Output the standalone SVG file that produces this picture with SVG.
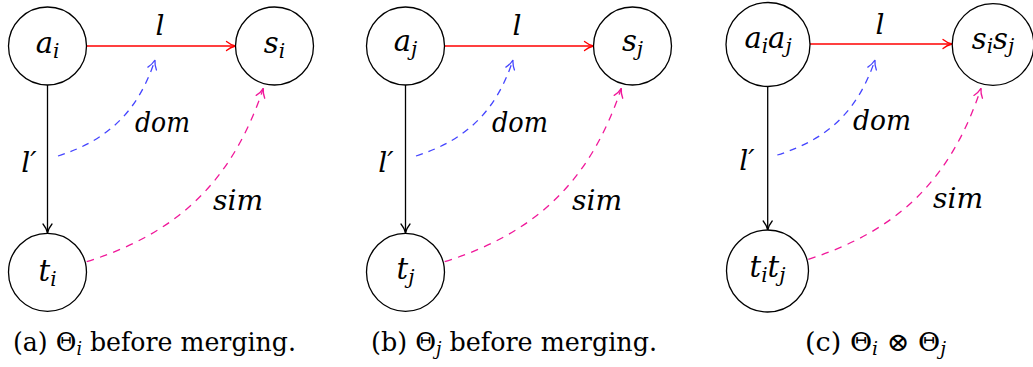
<svg xmlns="http://www.w3.org/2000/svg" width="1033" height="367" viewBox="0 0 1033 367">
<style>
.node{fill:#fff;stroke:#000;stroke-width:1.3}
.lab{font-family:"DejaVu Serif",serif;font-style:italic;font-size:29px;fill:#000}
.sub{font-size:20px}
.elab{font-family:"DejaVu Serif",serif;font-style:italic;font-size:28px;fill:#000}
.cap{font-family:"DejaVu Serif",serif;font-size:26px;fill:#000}
.e{fill:none;stroke-width:1.3}
.red{stroke:#ff0000}
.blk{stroke:#000}
.blue{stroke:#4545ff;stroke-dasharray:7 6}
.pink{stroke:#f0189a;stroke-dasharray:7.5 6.5}
</style>
<defs>
<marker id="mr" markerUnits="userSpaceOnUse" orient="auto" overflow="visible" markerWidth="1" markerHeight="1"><path d="M-9,-4.5 C-6,-2 -2,-0.5 0,0 C-2,0.5 -6,2 -9,4.5" fill="none" stroke="#ff0000" stroke-width="1.3" stroke-linecap="round"/></marker>
<marker id="mk" markerUnits="userSpaceOnUse" orient="auto" overflow="visible" markerWidth="1" markerHeight="1"><path d="M-9,-4.5 C-6,-2 -2,-0.5 0,0 C-2,0.5 -6,2 -9,4.5" fill="none" stroke="#000" stroke-width="1.3" stroke-linecap="round"/></marker>
<marker id="mb" markerUnits="userSpaceOnUse" orient="auto" overflow="visible" markerWidth="1" markerHeight="1"><path d="M-9,-4.5 C-6,-2 -2,-0.5 0,0 C-2,0.5 -6,2 -9,4.5" fill="none" stroke="#4545ff" stroke-width="1.3" stroke-linecap="round"/></marker>
<marker id="mp" markerUnits="userSpaceOnUse" orient="auto" overflow="visible" markerWidth="1" markerHeight="1"><path d="M-9,-4.5 C-6,-2 -2,-0.5 0,0 C-2,0.5 -6,2 -9,4.5" fill="none" stroke="#f0189a" stroke-width="1.3" stroke-linecap="round"/></marker>
</defs>

<g id="connectors">
<path class="e red" d="M86.5,46 L235.5,46" marker-end="url(#mr)"/>
<path class="e blk" d="M47.5,85 L47.5,233" marker-end="url(#mk)"/>
<path class="e blue" d="M58,156 C108.9,139.8 138.2,110.7 155,60" marker-end="url(#mb)"/>
<path class="e pink" d="M86.7,261.7 C179.1,232.6 232.6,180.2 263.3,88.3" marker-end="url(#mp)"/>

<path class="e red" d="M444.5,46 L593.5,46" marker-end="url(#mr)"/>
<path class="e blk" d="M405.5,85 L405.5,233" marker-end="url(#mk)"/>
<path class="e blue" d="M416,156 C466.9,139.8 496.2,110.7 513,60" marker-end="url(#mb)"/>
<path class="e pink" d="M444.7,261.7 C537.1,232.6 590.6,180.2 621.3,88.3" marker-end="url(#mp)"/>

<path class="e red" d="M810,44 L952,44" marker-end="url(#mr)"/>
<path class="e blk" d="M767.7,86 L767.7,230" marker-end="url(#mk)"/>
<path class="e blue" d="M777.3,155 C828.3,139.2 857.8,110.6 875,60" marker-end="url(#mb)"/>
<path class="e pink" d="M808.3,259.3 C898.9,230.4 951.1,178.6 981,88.3" marker-end="url(#mp)"/>
</g>

<g id="edge-labels">
<text class="elab" x="160" y="35" text-anchor="middle">l</text>
<text class="elab" x="29" y="171.5" text-anchor="middle">l′</text>
<text class="elab" x="135" y="131.5" textLength="55" lengthAdjust="spacingAndGlyphs">dom</text>
<text class="elab" x="213" y="210" textLength="50" lengthAdjust="spacingAndGlyphs">sim</text>

<text class="elab" x="517" y="35" text-anchor="middle">l</text>
<text class="elab" x="386" y="171.5" text-anchor="middle">l′</text>
<text class="elab" x="492" y="131.5" textLength="56" lengthAdjust="spacingAndGlyphs">dom</text>
<text class="elab" x="572" y="210" textLength="50" lengthAdjust="spacingAndGlyphs">sim</text>

<text class="elab" x="880" y="33.5" text-anchor="middle">l</text>
<text class="elab" x="747" y="170" text-anchor="middle">l′</text>
<text class="elab" x="853" y="130" textLength="58" lengthAdjust="spacingAndGlyphs">dom</text>
<text class="elab" x="933" y="208" textLength="50" lengthAdjust="spacingAndGlyphs">sim</text>
</g>

<g id="node-ai">
<circle class="node" cx="47.5" cy="46" r="39"/>
<text class="lab" x="47.5" y="53" text-anchor="middle">a<tspan class="sub" dy="4.5">i</tspan></text>
</g>
<g id="node-si">
<circle class="node" cx="274.5" cy="46" r="39"/>
<text class="lab" x="274.5" y="53" text-anchor="middle">s<tspan class="sub" dy="4.5">i</tspan></text>
</g>
<g id="node-ti">
<circle class="node" cx="47.5" cy="272.3" r="39"/>
<text class="lab" x="47.5" y="281" text-anchor="middle">t<tspan class="sub" dy="4.5">i</tspan></text>
</g>

<g id="node-aj">
<circle class="node" cx="405.5" cy="46" r="39"/>
<text class="lab" x="405.5" y="51" text-anchor="middle">a<tspan class="sub" dy="4.5">j</tspan></text>
</g>
<g id="node-sj">
<circle class="node" cx="632.5" cy="46" r="39"/>
<text class="lab" x="632.5" y="51" text-anchor="middle">s<tspan class="sub" dy="4.5">j</tspan></text>
</g>
<g id="node-tj">
<circle class="node" cx="405.5" cy="272.3" r="39"/>
<text class="lab" x="405.5" y="279" text-anchor="middle">t<tspan class="sub" dy="4.5">j</tspan></text>
</g>

<g id="node-aiaj">
<circle class="node" cx="768" cy="44.5" r="42"/>
<text class="lab" x="768" y="48" text-anchor="middle">a<tspan class="sub" dy="4.5">i</tspan><tspan dy="-4.5">a</tspan><tspan class="sub" dy="4.5">j</tspan></text>
</g>
<g id="node-sisj">
<circle class="node" cx="993" cy="44.5" r="40.8"/>
<text class="lab" x="993" y="48.5" text-anchor="middle">s<tspan class="sub" dy="4.5">i</tspan><tspan dy="-4.5">s</tspan><tspan class="sub" dy="4.5">j</tspan></text>
</g>
<g id="node-titj">
<circle class="node" cx="767.5" cy="271" r="41"/>
<text class="lab" x="767.5" y="277" text-anchor="middle">t<tspan class="sub" dy="4.5">i</tspan><tspan dy="-4.5">t</tspan><tspan class="sub" dy="4.5">j</tspan></text>
</g>

<g id="captions">
<text class="cap" x="13" y="351" textLength="283" lengthAdjust="spacingAndGlyphs">(a) Θ<tspan font-style="italic" font-size="18" dy="4">i</tspan><tspan dy="-4"> before merging.</tspan></text>
<text class="cap" x="371" y="351" textLength="286" lengthAdjust="spacingAndGlyphs">(b) Θ<tspan font-style="italic" font-size="18" dy="4">j</tspan><tspan dy="-4"> before merging.</tspan></text>
<text class="cap" x="805" y="351" textLength="141" lengthAdjust="spacingAndGlyphs">(c) Θ<tspan font-style="italic" font-size="18" dy="4">i</tspan><tspan dy="-4"> ⊗ Θ</tspan><tspan font-style="italic" font-size="18" dy="4">j</tspan></text>
</g>
</svg>
